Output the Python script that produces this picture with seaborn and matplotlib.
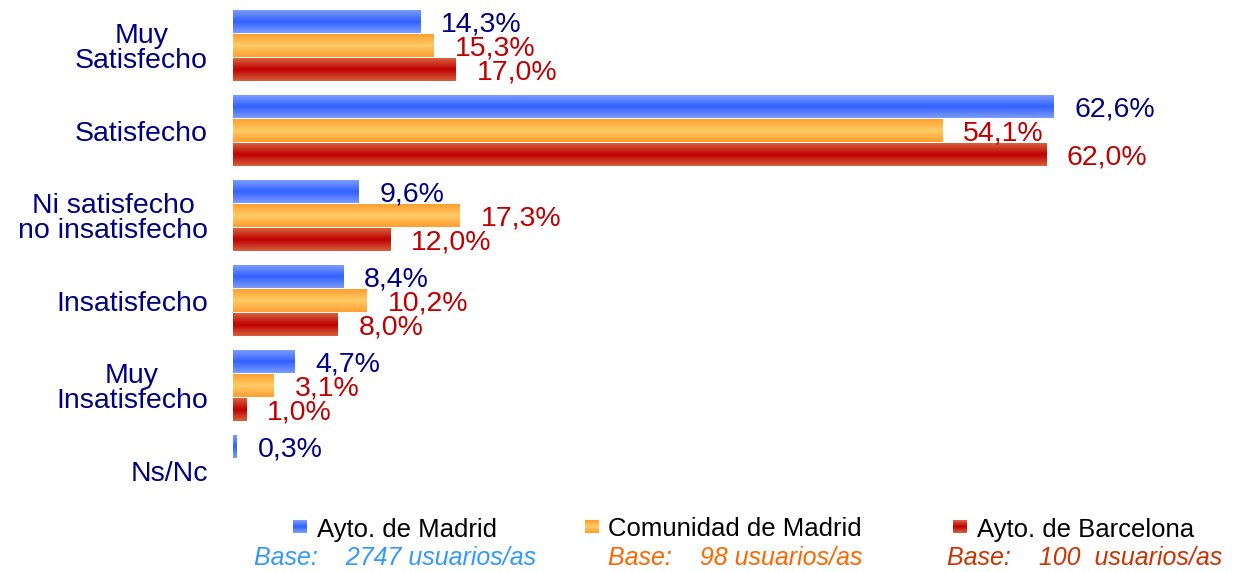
import numpy as np
import pandas as pd
import matplotlib
matplotlib.use("Agg")
import matplotlib.pyplot as plt
import seaborn as sns

# Satisfaction levels and percentages per institution
categorias = ["Muy\nSatisfecho", "Satisfecho", "Ni satisfecho\nno insatisfecho",
              "Insatisfecho", "Muy\nInsatisfecho", "Ns/Nc"]
series = ["Ayto. de Madrid", "Comunidad de Madrid", "Ayto. de Barcelona"]
ayto_madrid = [14.3, 62.6, 9.6, 8.4, 4.7, 0.3]
comunidad_madrid = [15.3, 54.1, 17.3, 10.2, 3.1, None]
ayto_barcelona = [17.0, 62.0, 12.0, 8.0, 1.0, None]
bases = ["Base:    2747 usuarios/as", "Base:    98 usuarios/as", "Base:    100  usuarios/as"]

# Gradient colours (edge, centre) and label colours per series
grad_colors = {
    "Ayto. de Madrid": ((0.48, 0.61, 1.0), (0.20, 0.38, 1.0)),
    "Comunidad de Madrid": ((1.0, 0.62, 0.18), (1.0, 0.80, 0.40)),
    "Ayto. de Barcelona": ((0.84, 0.38, 0.24), (0.75, 0.0, 0.0)),
}
label_colors = ["#000080", "#c00000", "#c00000"]
base_colors = ["#3399ff", "#ff6600", "#cc3300"]

rows = []
for serie, valores in zip(series, [ayto_madrid, comunidad_madrid, ayto_barcelona]):
    for cat, v in zip(categorias, valores):
        if v is not None:
            rows.append({"categoria": cat, "serie": serie, "porcentaje": v})
df = pd.DataFrame(rows)

sns.set_theme(style="white")
plt.rcParams["font.family"] = ["Liberation Sans", "DejaVu Sans"]
FS = 20.5

fig = plt.figure(figsize=(12.39, 5.72), dpi=100)
ax = fig.add_axes([233 / 1239, 1 - 513.5 / 572, 983.6 / 1239, 510 / 572])

palette = {s: grad_colors[s][1] for s in series}
sns.barplot(data=df, y="categoria", x="porcentaje", hue="serie",
            order=categorias, hue_order=series, orient="h",
            width=0.847, gap=0.083, palette=palette, errorbar=None,
            legend=False, ax=ax)


def gradient(serie, n=64):
    t = np.linspace(0, 1, n)
    prof = 1 - np.abs(2 * t - 1)
    edge, centre = (np.array(c) for c in grad_colors[serie])
    img = edge[None, :] + (centre - edge)[None, :] * prof[:, None]
    return img[:, None, :]


# Replace flat fills with a vertical edge-centre-edge gradient
for serie, cont in zip(series, ax.containers):
    img = gradient(serie)
    for bar in cont:
        x0, y0 = bar.get_x(), bar.get_y()
        w, h = bar.get_width(), bar.get_height()
        ax.imshow(img, extent=[x0, x0 + w, y0 + h, y0], aspect="auto",
                  interpolation="bilinear", zorder=bar.get_zorder())
        bar.set_facecolor("none")
        bar.set_edgecolor("none")

# Value labels, nudged slightly down so the digits sit on the bar centre
for cont, col in zip(ax.containers, label_colors):
    labels = [f"{v:.1f}".replace(".", ",") + "%" for v in cont.datavalues]
    anns = ax.bar_label(cont, labels=labels, padding=15, color=col, fontsize=FS)
    for a in anns:
        a.xyann = (15, -2)

ax.set_xlim(0, 75)
ax.set_ylim(5.5, -0.5)
ax.set_xlabel("")
ax.set_ylabel("")
ax.set_xticks([])
for s in ax.spines.values():
    s.set_visible(False)
ax.tick_params(axis="y", length=0, pad=18, labelsize=FS, labelcolor="#000080")
for lab in ax.get_yticklabels():
    lab.set_multialignment("center")
    lab.set_linespacing(0.95)

# Legend row drawn on a full-figure overlay in pixel units
lax = fig.add_axes([0, 0, 1, 1])
lax.set_xlim(0, 1239)
lax.set_ylim(572, 0)
lax.axis("off")
marker_x = [293, 585, 953]
text_x = [317, 608, 977]
base_x = [395, 735, 1085]
for serie, mx, tx, bx, txt, bc in zip(series, marker_x, text_x, base_x, bases, base_colors):
    lax.imshow(gradient(serie, 16), extent=[mx, mx + 14, 533, 520],
               aspect="auto", interpolation="bilinear")
    lax.text(tx, 529.5, serie, color="black", fontsize=18.5, ha="left", va="center")
    lax.text(bx, 558, txt, color=bc, fontsize=18, style="italic",
             ha="center", va="center")
lax.set_xlim(0, 1239)
lax.set_ylim(572, 0)

fig.savefig("out.png", dpi=100)
